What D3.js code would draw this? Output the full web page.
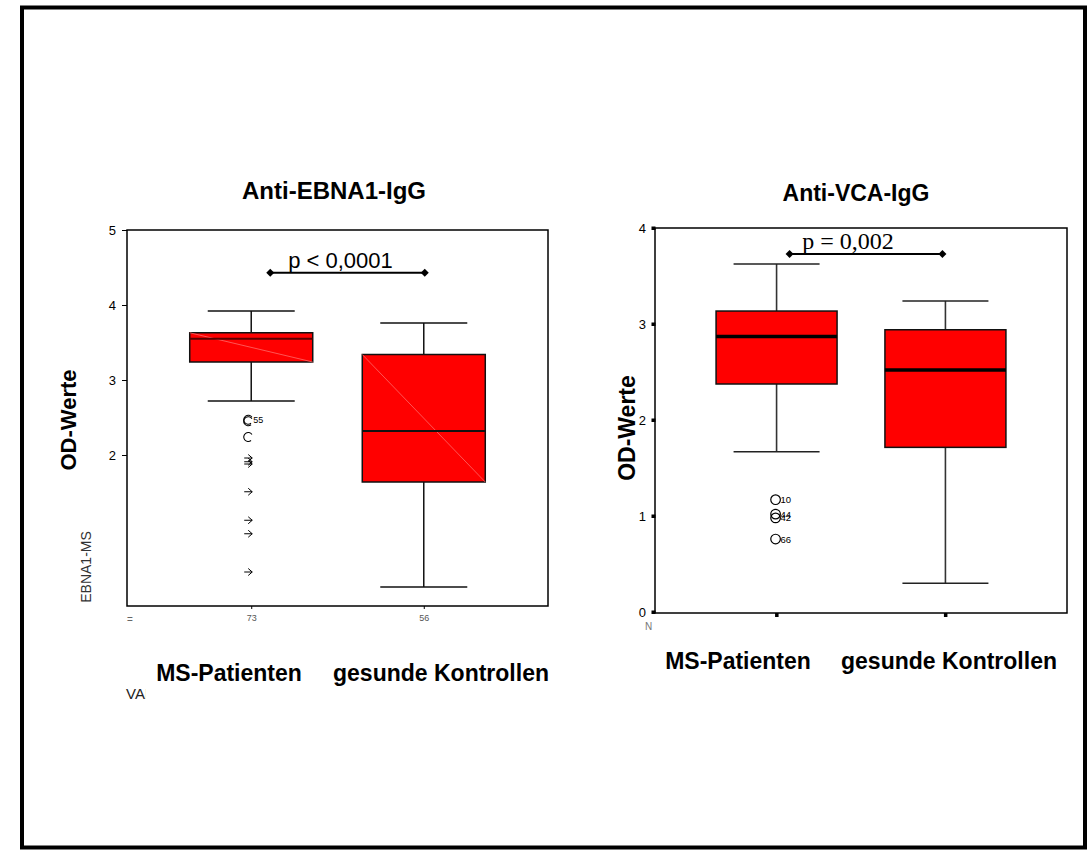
<!DOCTYPE html>
<html><head><meta charset="utf-8">
<script src="https://cdn.jsdelivr.net/npm/d3@7"></script>
<style>body{margin:0;background:#fff}svg{display:block}</style>
</head><body>
<script>
// ---- data ----
const categories = ["MS-Patienten", "gesunde Kontrollen"];
const ebnaTicks = [2, 3, 4, 5];
const ebnaN = ["73", "56"];
const ebnaMin = [2.72, 0.24];
const ebnaQ1 = [3.24, 1.64];
const ebnaMedian = [3.55, 2.32];
const ebnaQ3 = [3.63, 3.34];
const ebnaMax = [3.92, 3.76];
const ebnaCircleOutliers = [2.47, 2.45, 2.24];
const ebnaCircleLabels = ["55", "", ""];
const ebnaStarOutliers = [1.96, 1.91, 1.88, 1.51, 1.13, 0.95, 0.44];
const ebnaP = "p < 0,0001";
const ebnaBracket = 4.43;

const vcaTicks = [0, 1, 2, 3, 4];
const vcaMin = [1.67, 0.30];
const vcaQ1 = [2.375, 1.715];
const vcaMedian = [2.87, 2.52];
const vcaQ3 = [3.135, 2.94];
const vcaMax = [3.625, 3.24];
const vcaOutliers = [1.17, 1.02, 0.98, 0.76];
const vcaOutlierLabels = ["10", "44", "42", "66"];
const vcaP = "p = 0,002";
const vcaBracket = 3.73;

const W = 1090, H = 856;
const svg = d3.select("body").append("svg").attr("width", W).attr("height", H);
const sans = "'Liberation Sans', Arial, sans-serif";
const serif = "'Liberation Serif', 'Times New Roman', serif";

// outer frame
svg.append("rect").attr("x", 22).attr("y", 7.5).attr("width", 1063).attr("height", 840)
  .attr("fill", "none").attr("stroke", "#000").attr("stroke-width", 4);

function diamond(g, x, y) {
  g.append("path").attr("d", `M${x - 4},${y}L${x},${y - 4}L${x + 4},${y}L${x},${y + 4}Z`).attr("fill", "#000");
}

// ================= LEFT PANEL =================
{
  const L = 127, R = 548, T = 230, B = 606;
  const x = d3.scalePoint().domain(categories).range([L, R]).padding(0.72);
  const y = d3.scaleLinear().domain([0, 5]).range([605, T]);
  const g = svg.append("g");
  const bw = 123, cw = 87;

  categories.forEach((c, i) => {
    const cx = x(c);
    g.append("line").attr("x1", cx).attr("x2", cx).attr("y1", y(ebnaMax[i])).attr("y2", y(ebnaQ3[i])).attr("stroke", "#111").attr("stroke-width", 1.5);
    g.append("line").attr("x1", cx).attr("x2", cx).attr("y1", y(ebnaQ1[i])).attr("y2", y(ebnaMin[i])).attr("stroke", "#111").attr("stroke-width", 1.5);
    g.append("line").attr("x1", cx - cw / 2).attr("x2", cx + cw / 2).attr("y1", y(ebnaMax[i])).attr("y2", y(ebnaMax[i])).attr("stroke", "#111").attr("stroke-width", 1.5);
    g.append("line").attr("x1", cx - cw / 2).attr("x2", cx + cw / 2).attr("y1", y(ebnaMin[i])).attr("y2", y(ebnaMin[i])).attr("stroke", "#111").attr("stroke-width", 1.5);
    g.append("rect").attr("x", cx - bw / 2).attr("y", y(ebnaQ3[i])).attr("width", bw).attr("height", y(ebnaQ1[i]) - y(ebnaQ3[i]))
      .attr("fill", "#ff0000").attr("stroke", "#111").attr("stroke-width", 1.5);
    g.append("line").attr("x1", cx - bw / 2).attr("x2", cx + bw / 2).attr("y1", y(ebnaQ3[i])).attr("y2", y(ebnaQ1[i]))
      .attr("stroke", "#ff6a6a").attr("stroke-width", 0.8);
    g.append("line").attr("x1", cx - bw / 2).attr("x2", cx + bw / 2).attr("y1", y(ebnaMedian[i])).attr("y2", y(ebnaMedian[i]))
      .attr("stroke", i === 0 ? "#5a0000" : "#111").attr("stroke-width", 1.8);
  });

  const ox = x(categories[0]) - 3;
  ebnaCircleOutliers.forEach((v, i) => {
    const p = d3.path();
    p.arc(ox, y(v), 4.5, 0.9, 2 * Math.PI - 0.6);
    g.append("path").attr("d", p.toString()).attr("fill", "none").attr("stroke", "#000").attr("stroke-width", 1.1);
    if (ebnaCircleLabels[i]) g.append("text").attr("x", ox + 5).attr("y", y(v) + 3).attr("font-family", sans).attr("font-size", 9).text(ebnaCircleLabels[i]);
  });
  ebnaStarOutliers.forEach(v => {
    const yy = y(v);
    g.append("path").attr("d", `M${ox - 4},${yy}L${ox + 4},${yy}M${ox},${yy - 3.5}L${ox + 4},${yy}L${ox},${yy + 3.5}`)
      .attr("fill", "none").attr("stroke", "#000").attr("stroke-width", 1);
  });

  g.append("rect").attr("x", L).attr("y", T).attr("width", R - L).attr("height", B - T).attr("fill", "none").attr("stroke", "#000").attr("stroke-width", 1.5);

  const ya = g.append("g").attr("transform", `translate(${L},0)`).call(d3.axisLeft(y).tickValues(ebnaTicks).tickFormat(d3.format("d")).tickSize(5).tickSizeOuter(0).tickPadding(6));
  ya.select(".domain").remove();
  ya.selectAll("text").attr("font-family", sans).attr("font-size", 13).attr("fill", "#000");
  ya.selectAll("line").attr("stroke", "#000");

  const xa = g.append("g").attr("transform", `translate(0,${B})`).call(d3.axisBottom(x).tickSize(3).tickSizeOuter(0).tickFormat((d, i) => ebnaN[i]).tickPadding(6));
  xa.select(".domain").remove();
  xa.selectAll("text").attr("font-family", sans).attr("font-size", 9).attr("fill", "#555");
  g.append("text").attr("x", 127).attr("y", 623).attr("font-family", sans).attr("font-size", 10).attr("fill", "#666").text("=");

  const by = y(ebnaBracket);
  const bx1 = x(categories[0]) + 19, bx2 = x(categories[1]) + 1;
  g.append("line").attr("x1", bx1).attr("x2", bx2).attr("y1", by).attr("y2", by).attr("stroke", "#000").attr("stroke-width", 2);
  diamond(g, bx1, by); diamond(g, bx2, by);
  g.append("text").attr("x", (bx1 + bx2) / 2 - 7).attr("y", by - 5).attr("text-anchor", "middle").attr("font-family", sans).attr("font-size", 22).text(ebnaP);

  g.append("text").attr("x", 334).attr("y", 199).attr("text-anchor", "middle").attr("font-family", sans).attr("font-weight", "bold").attr("font-size", 24).text("Anti-EBNA1-IgG");
  g.append("text").attr("transform", `translate(76,420) rotate(-90)`).attr("text-anchor", "middle").attr("font-family", sans).attr("font-weight", "bold").attr("font-size", 22).text("OD-Werte");
  g.append("text").attr("transform", `translate(91,567) rotate(-90)`).attr("text-anchor", "middle").attr("font-family", sans).attr("font-size", 14).attr("fill", "#333").text("EBNA1-MS");
  const catX = [229, 441];
  categories.forEach((c, i) => {
    g.append("text").attr("x", catX[i]).attr("y", 681).attr("text-anchor", "middle").attr("font-family", sans).attr("font-weight", "bold").attr("font-size", 23).text(c);
  });
  svg.append("clipPath").attr("id", "vaclip").append("rect").attr("x", 120).attr("y", 680).attr("width", 26).attr("height", 30);
  g.append("text").attr("x", 126).attr("y", 699).attr("clip-path", "url(#vaclip)").attr("font-family", sans).attr("font-size", 15).attr("fill", "#222").text("VAR");
}

// ================= RIGHT PANEL =================
{
  const L = 655, R = 1067, T = 228, B = 613;
  const x = d3.scalePoint().domain(categories).range([L, R]).padding(0.72);
  const y = d3.scaleLinear().domain([0, 4]).range([612, T]);
  const g = svg.append("g");
  const bw = 121, cw = 86;

  categories.forEach((c, i) => {
    const cx = x(c);
    g.append("line").attr("x1", cx).attr("x2", cx).attr("y1", y(vcaMax[i])).attr("y2", y(vcaQ3[i])).attr("stroke", "#333").attr("stroke-width", 1.6);
    g.append("line").attr("x1", cx).attr("x2", cx).attr("y1", y(vcaQ1[i])).attr("y2", y(vcaMin[i])).attr("stroke", "#333").attr("stroke-width", 1.6);
    g.append("line").attr("x1", cx - cw / 2).attr("x2", cx + cw / 2).attr("y1", y(vcaMax[i])).attr("y2", y(vcaMax[i])).attr("stroke", "#222").attr("stroke-width", 1.5);
    g.append("line").attr("x1", cx - cw / 2).attr("x2", cx + cw / 2).attr("y1", y(vcaMin[i])).attr("y2", y(vcaMin[i])).attr("stroke", "#222").attr("stroke-width", 1.5);
    g.append("rect").attr("x", cx - bw / 2).attr("y", y(vcaQ3[i])).attr("width", bw).attr("height", y(vcaQ1[i]) - y(vcaQ3[i]))
      .attr("fill", "#ff0000").attr("stroke", "#111").attr("stroke-width", 1.5);
    g.append("line").attr("x1", cx - bw / 2).attr("x2", cx + bw / 2).attr("y1", y(vcaMedian[i])).attr("y2", y(vcaMedian[i]))
      .attr("stroke", "#000").attr("stroke-width", 3.5);
  });

  const ox = x(categories[0]) - 1;
  vcaOutliers.forEach((v, i) => {
    g.append("circle").attr("cx", ox).attr("cy", y(v)).attr("r", 4.8).attr("fill", "none").attr("stroke", "#000").attr("stroke-width", 1.2);
    g.append("text").attr("x", ox + 5).attr("y", y(v) + 3.5).attr("font-family", sans).attr("font-size", 9.5).text(vcaOutlierLabels[i]);
  });

  g.append("rect").attr("x", L).attr("y", T).attr("width", R - L).attr("height", B - T).attr("fill", "none").attr("stroke", "#000").attr("stroke-width", 1.5);

  const ya = g.append("g").attr("transform", `translate(${L},0)`).call(d3.axisLeft(y).tickValues(vcaTicks).tickFormat(d3.format("d")).tickSize(0).tickPadding(9));
  ya.select(".domain").remove();
  ya.selectAll("text").attr("font-family", sans).attr("font-size", 13).attr("fill", "#000");
  vcaTicks.forEach(t => g.append("rect").attr("x", L - 3.5).attr("y", y(t) - 1.5).attr("width", 4).attr("height", 3.5).attr("fill", "#000"));
  categories.forEach(c => g.append("rect").attr("x", x(c) - 1.5).attr("y", B).attr("width", 3.5).attr("height", 4).attr("fill", "#000"));
  g.append("text").attr("x", 645).attr("y", 630).attr("font-family", sans).attr("font-size", 10).attr("fill", "#777").text("N");

  const by = y(vcaBracket);
  const bx1 = x(categories[0]) + 13, bx2 = x(categories[1]) - 3;
  g.append("line").attr("x1", bx1).attr("x2", bx2).attr("y1", by).attr("y2", by).attr("stroke", "#000").attr("stroke-width", 2);
  diamond(g, bx1, by); diamond(g, bx2, by);
  g.append("text").attr("x", 848).attr("y", by - 5).attr("text-anchor", "middle").attr("font-family", serif).attr("font-size", 24).text(vcaP);

  g.append("text").attr("x", 856).attr("y", 201).attr("text-anchor", "middle").attr("font-family", sans).attr("font-weight", "bold").attr("font-size", 23).text("Anti-VCA-IgG");
  g.append("text").attr("transform", `translate(635,428) rotate(-90)`).attr("text-anchor", "middle").attr("font-family", sans).attr("font-weight", "bold").attr("font-size", 23).text("OD-Werte");
  const catX = [738, 949];
  categories.forEach((c, i) => {
    g.append("text").attr("x", catX[i]).attr("y", 669).attr("text-anchor", "middle").attr("font-family", sans).attr("font-weight", "bold").attr("font-size", 23).text(c);
  });
}
</script>
</body></html>
